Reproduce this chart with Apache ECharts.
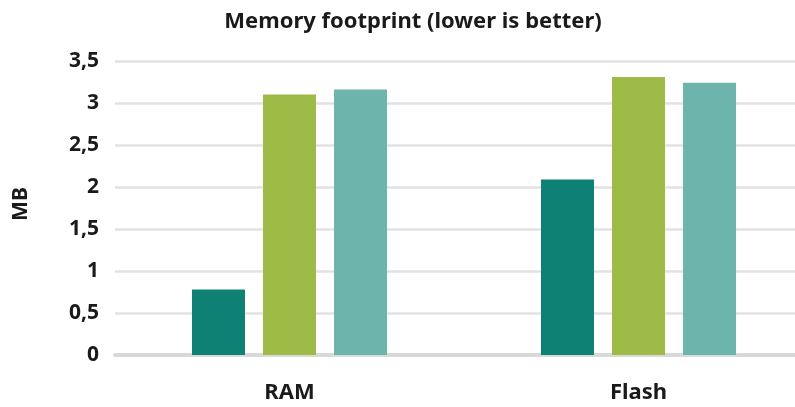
<!DOCTYPE html>
<html>
<head>
<meta charset="utf-8">
<script src="https://cdn.jsdelivr.net/npm/echarts@6/dist/echarts.min.js"></script>
<style>
  html, body { margin: 0; padding: 0; background: #ffffff; overflow: hidden; }
  /* the plot runs slightly past the right edge of the page */
  #chart { width: 813px; height: 407px; }
</style>
</head>
<body>
<div id="chart"></div>
<script>
// Memory usage in MB per build, grouped by memory type
const categories = ['RAM', 'Flash'];
const seriesA = [0.78, 2.09];
const seriesB = [3.10, 3.31];
const seriesC = [3.16, 3.24];
const yTicks = { min: 0, max: 3.5, step: 0.5 };

const colors = ['#0f8174', '#9dbb46', '#6db4ad'];
const fontFamily = '"Noto Sans", sans-serif';

const chart = echarts.init(document.getElementById('chart'), null, { renderer: 'canvas' });

function bar(name, data, color) {
  return {
    name: name,
    type: 'bar',
    data: data,
    barWidth: 53,
    barGap: '34%',
    itemStyle: { color: color },
    emphasis: { disabled: true },
    animation: false
  };
}

chart.setOption({
  animation: false,
  title: {
    text: 'Memory footprint (lower is better)',
    left: 408,
    textAlign: 'center',
    top: 6,
    textStyle: { fontFamily: fontFamily, fontSize: 22, fontWeight: 'bold', color: '#1a1a1a' }
  },
  grid: { left: 115, top: 61, bottom: 52, right: 0, containLabel: false },
  xAxis: {
    type: 'category',
    data: categories,
    axisLine: { show: true, lineStyle: { color: '#d9d9d9', width: 4 } },
    axisTick: { show: false },
    axisLabel: {
      margin: 27,
      fontFamily: fontFamily, fontSize: 22, fontWeight: 'bold', color: '#1a1a1a'
    }
  },
  yAxis: {
    type: 'value',
    min: yTicks.min,
    max: yTicks.max,
    interval: yTicks.step,
    name: 'MB',
    nameLocation: 'middle',
    nameGap: 83,
    nameRotate: 90,
    nameTextStyle: { fontFamily: fontFamily, fontSize: 21, fontWeight: 'bold', color: '#1a1a1a', padding: [0, 0, 0, 8] },
    axisLine: { show: false },
    axisTick: { show: false },
    splitLine: { lineStyle: { color: '#e2e2e2', width: 2.5 } },
    axisLabel: {
      margin: 16,
      fontFamily: fontFamily, fontSize: 21, fontWeight: 'bold', color: '#1a1a1a',
      formatter: v => String(v).replace('.', ',')
    }
  },
  series: [
    bar('A', seriesA, colors[0]),
    bar('B', seriesB, colors[1]),
    bar('C', seriesC, colors[2])
  ]
});
</script>
</body>
</html>
